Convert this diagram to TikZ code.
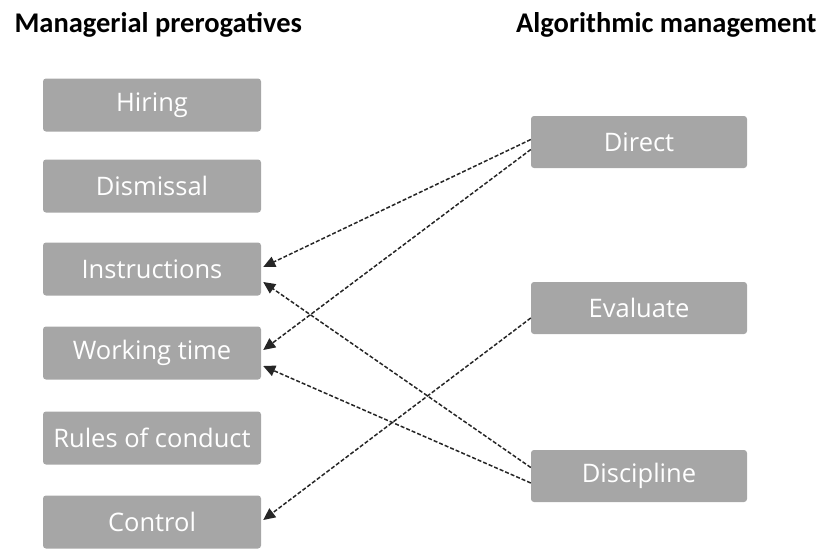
\documentclass[tikz,border=0pt]{standalone}
\usepackage{fontspec}
\setmainfont{Carlito}
\newfontfamily\boxfont{Open Sans}
\usepackage{tikz}
\usetikzlibrary{arrows.meta}
\definecolor{boxgray}{RGB}{166,166,166}

\begin{document}
\begin{tikzpicture}[x=1pt,y=-1pt,
  box/.style={fill=boxgray, rounded corners=3pt, text=white, font=\boxfont\fontsize{25.5}{28}\selectfont},
  lbox/.style={box, minimum width=218pt, minimum height=53pt},
  rbox/.style={box, minimum width=216pt, minimum height=52pt},
  link/.style={dash pattern=on 4pt off 2pt, line width=1.5pt, draw=black!85, -{Triangle[length=12pt,width=11pt]}}]
\useasboundingbox (0,0) rectangle (824,551);
\node[anchor=west, font=\fontsize{28.5}{32}\bfseries] (head1) at (11,25) {Managerial prerogatives};
\node[anchor=east, font=\fontsize{28.5}{32}\bfseries] (head2) at (820,25) {Algorithmic management};
\node[lbox] (hiring) at (152,105) {Hiring};
\node[lbox] (dismissal) at (152,186) {Dismissal};
	\node[lbox] (instructions) at (152,269) {Instructions};
	\node[lbox] (workingtime) at (152,353) {Working time};
\node[lbox] (rules) at (152,438) {Rules of conduct};
\node[lbox] (control) at (152,522) {Control};
\node[rbox] (direct) at (639,142) {Direct};
\node[rbox] (evaluate) at (639,308) {Evaluate};
\node[rbox] (discipline) at (639,476) {Discipline};
\draw[link] ([yshift=2.5pt]direct.west) to ([xshift=2pt,yshift=2pt]instructions.east);
\draw[link] ([yshift=-7.5pt]direct.west) to ([xshift=2pt,yshift=3pt]workingtime.east);
\draw[link] ([yshift=8.5pt]discipline.west) to ([xshift=2pt,yshift=-13pt]instructions.east);
\draw[link] ([yshift=-7pt]discipline.west) to ([xshift=2pt,yshift=-13pt]workingtime.east);
\draw[link] ([yshift=-10pt]evaluate.west) to ([xshift=2pt,yshift=2pt]control.east);
\end{tikzpicture}
\end{document}
